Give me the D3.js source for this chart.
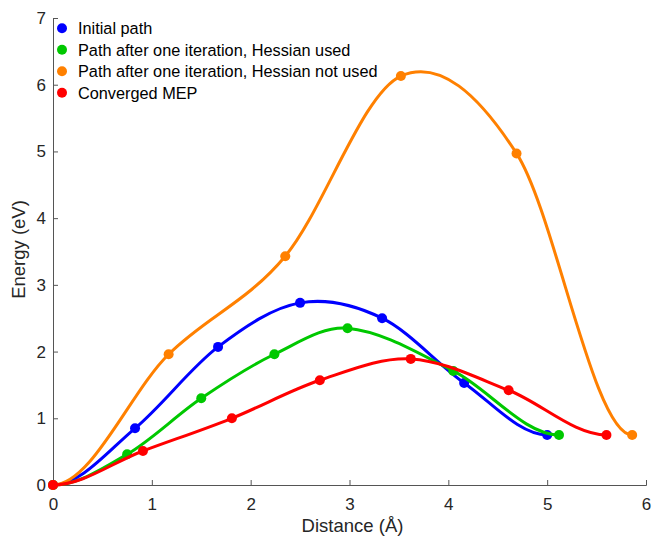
<!DOCTYPE html>
<html>
<head>
<meta charset="utf-8">
<script src="https://cdn.jsdelivr.net/npm/d3@7"></script>
<style>
  body { margin: 0; background: #fff; }
  svg { display: block; font-family: "Liberation Sans", Arial, sans-serif; }
</style>
</head>
<body>
<svg id="chart" width="652" height="538"></svg>
<script>
// data (distance in Å, energy in eV)
const seriesNames = [
  "Initial path",
  "Path after one iteration, Hessian used",
  "Path after one iteration, Hessian not used",
  "Converged MEP"
];
const seriesColors = ["#0000ff", "#00c800", "#ff8000", "#ff0000"];

const initialX = [0, 0.83, 1.67, 2.50, 3.33, 4.16, 5.00];
const initialY = [0, 0.85, 2.07, 2.73, 2.50, 1.53, 0.75];

const hessX = [0, 0.75, 1.50, 2.24, 2.98, 4.05, 5.12];
const hessY = [0, 0.46, 1.30, 1.96, 2.35, 1.71, 0.75];

const noHessX = [0, 1.17, 2.35, 3.52, 4.69, 5.86];
const noHessY = [0, 1.96, 3.43, 6.13, 4.97, 0.75];

const mepX = [0, 0.91, 1.81, 2.70, 3.62, 4.61, 5.60];
const mepY = [0, 0.51, 1.00, 1.57, 1.89, 1.42, 0.75];

const xTicks = [0, 1, 2, 3, 4, 5, 6];
const yTicks = [0, 1, 2, 3, 4, 5, 6, 7];

const seriesX = [initialX, hessX, noHessX, mepX];
const seriesY = [initialY, hessY, noHessY, mepY];

const svg = d3.select("#chart");
const margin = { top: 18, right: 6, bottom: 53, left: 53 };
const width = 652 - margin.left - margin.right;
const height = 538 - margin.top - margin.bottom;

const x = d3.scaleLinear().domain([0, 6]).range([0, width]);
const y = d3.scaleLinear().domain([0, 7]).range([height, 0]);

// hermite curve: flat at both ends, finite-difference slopes inside
function curveFlatEnds(context) {
  let xs = [], ys = [];
  return {
    areaStart() {}, areaEnd() {},
    lineStart() { xs = []; ys = []; },
    point(px, py) { xs.push(+px); ys.push(+py); },
    lineEnd() {
      const n = xs.length;
      if (!n) return;
      context.moveTo(xs[0], ys[0]);
      if (n < 3) { context.lineTo(xs[n - 1], ys[n - 1]); return; }
      const m = xs.map((v, i) => {
        if (i === 0 || i === n - 1) return 0;
        return (ys[i + 1] - ys[i - 1]) / (xs[i + 1] - xs[i - 1]);
      });
      for (let i = 0; i < n - 1; i++) {
        const d = (xs[i + 1] - xs[i]) / 3;
        context.bezierCurveTo(xs[i] + d, ys[i] + m[i] * d,
          xs[i + 1] - d, ys[i + 1] - m[i + 1] * d, xs[i + 1], ys[i + 1]);
      }
    }
  };
}

const g = svg.append("g").attr("transform", `translate(${margin.left},${margin.top})`);

// axes (ticks point inward)
const xAxis = g.append("g")
  .attr("transform", `translate(0,${height})`)
  .call(d3.axisBottom(x).tickValues(xTicks).tickFormat(d3.format("d")).tickSize(-5).tickPadding(13));
const yAxis = g.append("g")
  .call(d3.axisLeft(y).tickValues(yTicks).tickFormat(d3.format("d")).tickSize(-5).tickPadding(7));

[xAxis, yAxis].forEach((ax) => {
  ax.select(".domain").attr("stroke", "#555").attr("stroke-width", 1);
  ax.selectAll(".tick line").attr("stroke", "#555");
  ax.selectAll(".tick text")
    .attr("fill", "#262626")
    .style("font-size", "17px")
    .style("font-family", "Liberation Sans, Arial, sans-serif");
});

svg.append("text")
  .attr("x", margin.left + width / 2 + 3)
  .attr("y", 532)
  .attr("text-anchor", "middle")
  .attr("fill", "#262626")
  .style("font-size", "18.5px")
  .text("Distance (Å)");

svg.append("text")
  .attr("transform", `translate(25,${margin.top + height / 2 - 2}) rotate(-90)`)
  .attr("text-anchor", "middle")
  .attr("fill", "#262626")
  .style("font-size", "18.5px")
  .text("Energy (eV)");

// curves and markers
const line = d3.line()
  .x((d) => x(d[0]))
  .y((d) => y(d[1]))
  .curve(curveFlatEnds);

seriesNames.forEach((name, k) => {
  const pts = seriesX[k].map((v, i) => [v, seriesY[k][i]]);
  const sg = g.append("g").attr("class", "series");
  sg.append("path")
    .datum(pts)
    .attr("d", line)
    .attr("fill", "none")
    .attr("stroke", seriesColors[k])
    .attr("stroke-width", 3);
  sg.selectAll("circle")
    .data(pts)
    .enter()
    .append("circle")
    .attr("cx", (d) => x(d[0]))
    .attr("cy", (d) => y(d[1]))
    .attr("r", 5)
    .attr("fill", seriesColors[k]);
});

// legend
const legend = svg.append("g").attr("transform", "translate(62,28.3)");
const rows = legend.selectAll("g")
  .data(seriesNames)
  .enter()
  .append("g")
  .attr("transform", (d, i) => `translate(0,${i * 21.5})`);
rows.append("circle")
  .attr("r", 5)
  .attr("fill", (d, i) => seriesColors[i]);
rows.append("text")
  .attr("x", 16)
  .attr("dy", "0.35em")
  .attr("fill", "#000")
  .style("font-size", "16.3px")
  .text((d) => d);
</script>
</body>
</html>
